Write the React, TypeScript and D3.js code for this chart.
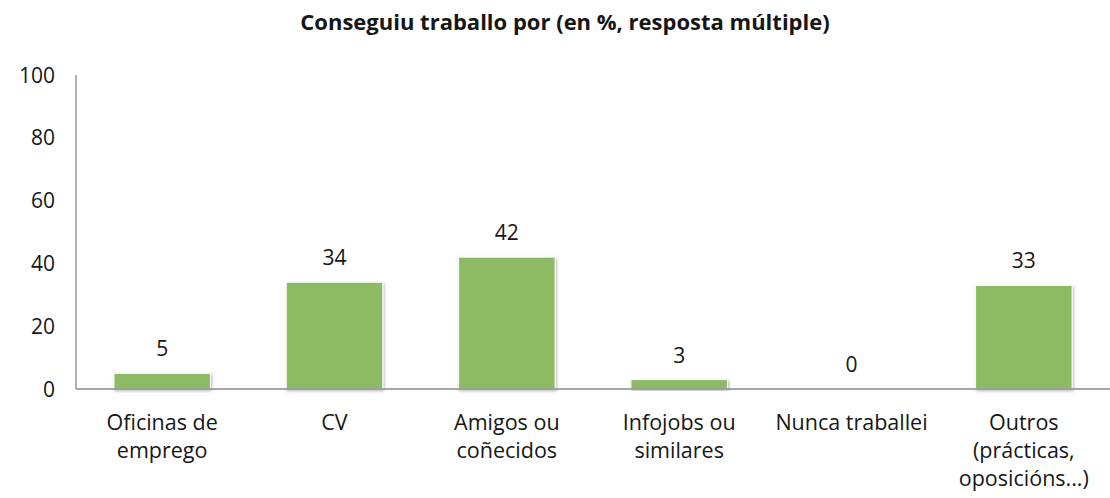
import React from "react";
import * as d3 from "d3";

const categories: string[][] = [
  ["Oficinas de", "emprego"],
  ["CV"],
  ["Amigos ou", "coñecidos"],
  ["Infojobs ou", "similares"],
  ["Nunca traballei"],
  ["Outros", "(prácticas,", "oposicións...)"],
];
const values: number[] = [5, 34, 42, 3, 0, 33];
const yTicks: number[] = [0, 20, 40, 60, 80, 100];
const title = "Conseguiu traballo por (en %, resposta múltiple)";

const W = 1110;
const H = 498;
const FONT = "'Open Sans', sans-serif";
const TXT = "#161616";

export default function App() {
  const left = 76;
  const right = 1110;
  const top = 75;
  const bottom = 389;
  const keys = categories.map((_, i) => String(i));
  const x = d3.scaleBand<string>().domain(keys).range([left, right]).paddingInner(0.44).paddingOuter(0.22);
  const y = d3.scaleLinear().domain([0, 100]).range([bottom, top]);
  return (
    <svg width={W} height={H} style={{ position: "absolute", left: 0, top: 0, background: "#fff" }}>
      <defs>
        <filter id="sh" x="-10%" y="-10%" width="130%" height="130%">
          <feDropShadow dx="1" dy="1.5" stdDeviation="1.5" floodColor="#000" floodOpacity="0.3" />
        </filter>
      </defs>
      <text x={565} y={30} textAnchor="middle" fontFamily={FONT} fontWeight="bold" fontSize={22} fill={TXT}>
        {title}
      </text>
      {yTicks.map((t) => (
        <text key={t} x={55} y={y(t)} dy="0.36em" textAnchor="end" fontFamily={FONT} fontSize={21} fill={TXT}>
          {t}
        </text>
      ))}
      {values.map((v, i) => {
        const bx = x(String(i))!;
        const bw = x.bandwidth();
        const cx = bx + bw / 2;
        return (
          <g key={i}>
            {v > 0 && (
              <rect x={bx} y={y(v)} width={bw} height={bottom - y(v)} fill="#8DBB63" stroke="#fff" strokeWidth={1} filter="url(#sh)" />
            )}
            <text x={cx} y={y(v) - 17} textAnchor="middle" fontFamily={FONT} fontSize={21} fill={TXT}>
              {v}
            </text>
            {categories[i].map((line, j) => (
              <text key={j} x={cx} y={430 + j * 28} textAnchor="middle" fontFamily={FONT} fontSize={21.5} fill={TXT}>
                {line}
              </text>
            ))}
          </g>
        );
      })}
      <line x1={left} x2={left} y1={top} y2={bottom} stroke="#888" strokeWidth={1.3} />
      <line x1={left} x2={right} y1={bottom} y2={bottom} stroke="#888" strokeWidth={1.3} />
    </svg>
  );
}
